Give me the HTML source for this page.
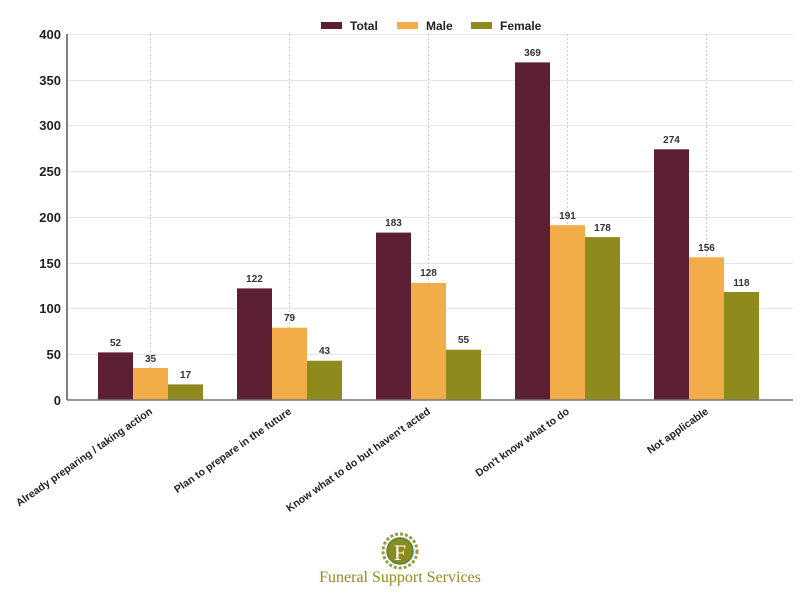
<!DOCTYPE html>
<html><head><meta charset="utf-8"><style>body{margin:0;background:#fff}svg{display:block}text{font-family:"Liberation Sans",sans-serif}</style></head>
<body>
<svg width="800" height="595" viewBox="0 0 800 595" xmlns="http://www.w3.org/2000/svg">
<g stroke="#e6e6e6" stroke-width="1">
<line x1="67" y1="34.5" x2="793" y2="34.5"/><line x1="67" y1="80.5" x2="793" y2="80.5"/><line x1="67" y1="125.5" x2="793" y2="125.5"/><line x1="67" y1="171.5" x2="793" y2="171.5"/><line x1="67" y1="217.5" x2="793" y2="217.5"/><line x1="67" y1="263.5" x2="793" y2="263.5"/><line x1="67" y1="308.5" x2="793" y2="308.5"/><line x1="67" y1="354.5" x2="793" y2="354.5"/>
</g>
<g stroke="#cfcfcf" stroke-width="1" stroke-dasharray="2,2">
<line x1="150.5" y1="34" x2="150.5" y2="400"/><line x1="289.5" y1="34" x2="289.5" y2="400"/><line x1="428.5" y1="34" x2="428.5" y2="400"/><line x1="567.5" y1="34" x2="567.5" y2="400"/><line x1="706.5" y1="34" x2="706.5" y2="400"/>
</g>
<g>
<rect x="98" y="352.4" width="35" height="47.6" fill="#5c1f33"/><rect x="133" y="368" width="35" height="32" fill="#f2ad48"/><rect x="168" y="384.4" width="35" height="15.6" fill="#8f8a1e"/>
<rect x="237" y="288.4" width="35" height="111.6" fill="#5c1f33"/><rect x="272" y="327.7" width="35" height="72.3" fill="#f2ad48"/><rect x="307" y="360.7" width="35" height="39.3" fill="#8f8a1e"/>
<rect x="376" y="232.6" width="35" height="167.4" fill="#5c1f33"/><rect x="411" y="282.9" width="35" height="117.1" fill="#f2ad48"/><rect x="446" y="349.7" width="35" height="50.3" fill="#8f8a1e"/>
<rect x="515" y="62.4" width="35" height="337.6" fill="#5c1f33"/><rect x="550" y="225.2" width="35" height="174.8" fill="#f2ad48"/><rect x="585" y="237.1" width="35" height="162.9" fill="#8f8a1e"/>
<rect x="654" y="149.3" width="35" height="250.7" fill="#5c1f33"/><rect x="689" y="257.3" width="35" height="142.7" fill="#f2ad48"/><rect x="724" y="292" width="35" height="108" fill="#8f8a1e"/>
</g>
<g font-size="10" font-weight="bold" fill="#333" text-anchor="middle">
<text x="115.5" y="346">52</text><text x="150.5" y="362">35</text><text x="185.5" y="378">17</text>
<text x="254.5" y="282">122</text><text x="289.5" y="321">79</text><text x="324.5" y="354">43</text>
<text x="393.5" y="226">183</text><text x="428.5" y="276">128</text><text x="463.5" y="343">55</text>
<text x="532.5" y="56">369</text><text x="567.5" y="219">191</text><text x="602.5" y="231">178</text>
<text x="671.5" y="143">274</text><text x="706.5" y="251">156</text><text x="741.5" y="286">118</text>
</g>
<line x1="67" y1="34" x2="67" y2="400" stroke="#555" stroke-width="1.5"/>
<line x1="67" y1="400" x2="793" y2="400" stroke="#777" stroke-width="1.5"/>
<g font-size="13" font-weight="bold" fill="#222" text-anchor="end">
<text x="61" y="39">400</text><text x="61" y="85">350</text><text x="61" y="130">300</text><text x="61" y="176">250</text><text x="61" y="222">200</text><text x="61" y="268">150</text><text x="61" y="313">100</text><text x="61" y="359">50</text><text x="61" y="405">0</text>
</g>
<g font-size="10.5" font-weight="bold" fill="#222" text-anchor="end">
<text transform="translate(153,413) rotate(-35)">Already preparing / taking action</text>
<text transform="translate(292,413) rotate(-35)">Plan to prepare in the future</text>
<text transform="translate(431,413) rotate(-35)">Know what to do but haven't acted</text>
<text transform="translate(570,413) rotate(-35)">Don't know what to do</text>
<text transform="translate(709,413) rotate(-35)">Not applicable</text>
</g>
<g font-size="12" font-weight="bold" fill="#222">
<rect x="321" y="22" width="21" height="7" fill="#5c1f33"/><text x="350" y="30">Total</text>
<rect x="397" y="22" width="21" height="7" fill="#f2ad48"/><text x="426" y="30">Male</text>
<rect x="471" y="22" width="21" height="7" fill="#8f8a1e"/><text x="500" y="30">Female</text>
</g>
<g>
<circle cx="400" cy="551" r="17" fill="none" stroke="#a59a3a" stroke-width="3" stroke-dasharray="3,2"/>
<circle cx="400" cy="551" r="13" fill="#8f8a1e" stroke="#3d8a4a" stroke-width="1.5"/>
<text x="400" y="560" font-size="22" fill="#fff" text-anchor="middle" style="font-family:'Liberation Serif',serif">F</text>
<text x="400" y="582" font-size="16" fill="#8f8a1e" text-anchor="middle" style="font-family:'Liberation Serif',serif">Funeral Support Services</text>
</g>
</svg>
</body></html>
